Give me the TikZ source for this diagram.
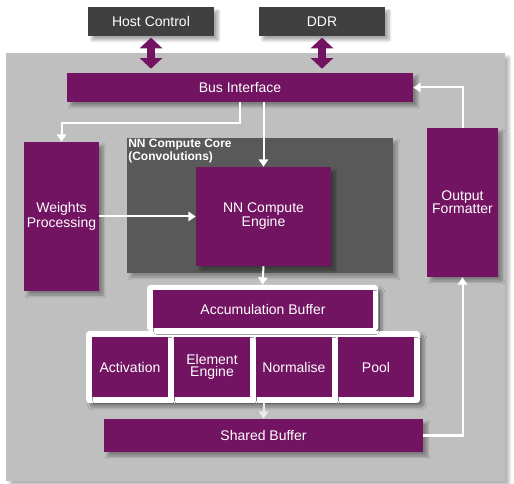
\documentclass[tikz,border=0pt]{standalone}
\usepackage{fontspec}
\setmainfont{Liberation Sans}
\usetikzlibrary{arrows.meta,shadows.blur}

\definecolor{nnpurple}{RGB}{114,20,98}
\definecolor{bggray}{RGB}{191,191,191}
\definecolor{coregray}{RGB}{89,89,89}
\definecolor{hostgray}{RGB}{64,64,64}

\tikzset{
  blk/.style={fill=nnpurple, text=white, inner sep=0pt, align=center,
    font=\fontsize{10.5}{9.5}\selectfont,
    blur shadow={shadow xshift=3pt, shadow yshift=-3pt, shadow opacity=35, shadow blur steps=6}},
  ext/.style={blk, fill=hostgray},
  frame/.style={fill=white, rounded corners=2.5pt, inner sep=0pt,
    blur shadow={shadow xshift=3pt, shadow yshift=-3pt, shadow opacity=35, shadow blur steps=6}},
  flow/.style={draw=white, line width=1.5pt, -{Triangle[width=7pt,length=5.5pt]}},
  busarrow/.style={draw=nnpurple, line width=5.5pt,
    {Triangle[width=16.5pt,length=8pt]}-{Triangle[width=16.5pt,length=8pt]}},
}

\begin{document}
\begin{tikzpicture}[x=0.75pt,y=0.75pt,yscale=-1,xscale=1]
\useasboundingbox (0,0) rectangle (514,484);

% background panel
\fill[bggray, blur shadow={shadow xshift=3pt, shadow yshift=-3pt, shadow opacity=30, shadow blur steps=6}] (6,53) rectangle (505,481);

% external blocks
\node[ext, minimum width=94.5pt, minimum height=21.75pt] (host) at (151,21.5) {Host Control};
\node[ext, minimum width=94.5pt, minimum height=21.75pt] (ddr) at (322,21.5) {DDR};

% bus
\node[blk, minimum width=259.5pt, minimum height=21.75pt] (bus) at (240,87.5) {Bus Interface};

\draw[busarrow, shorten <=1pt, shorten >=3pt] (host.south) -- (host.south |- bus.north);
\draw[busarrow, shorten <=1pt, shorten >=3pt] (ddr.south) -- (ddr.south |- bus.north);

% side blocks
\node[blk, minimum width=56.25pt, minimum height=111.75pt] (weights) at (61.5,216.5) {Weights\\Processing};
\node[blk, minimum width=53.25pt, minimum height=111.75pt] (output) at (462.5,202.5) {Output\\Formatter};

% compute core
\node[fill=coregray, minimum width=199.5pt, minimum height=101.25pt, inner sep=0pt,
  blur shadow={shadow xshift=3pt, shadow yshift=-3pt, shadow opacity=30, shadow blur steps=6}] (core) at (260,205.5) {};
\node[anchor=north west, text=white, inner sep=1pt, align=left,
  font=\bfseries\fontsize{9}{8.3}\selectfont] (corelabel) at (core.north west) {NN Compute Core\\(Convolutions)};
\node[blk, minimum width=101.25pt, minimum height=74.25pt, font=\fontsize{10.5}{10.5}\selectfont] (engine) at (263.5,216.5) {NN Compute\\Engine};

% post-processing
\node[frame, minimum width=173.25pt, minimum height=34.5pt] (accframe) at (262.5,308) {};
\node[frame, minimum width=250.5pt, minimum height=54pt] (postframe) at (253,367) {};
\fill[white] (150,325) rectangle (375,335);
\node[blk, minimum width=165pt, minimum height=28.5pt, blur shadow={shadow opacity=0}] (acc) at (263,309) {Accumulation Buffer};
\node[blk, minimum width=57pt, minimum height=45pt, blur shadow={shadow opacity=0}] (act) at (130,367) {Activation};
\node[blk, minimum width=57pt, minimum height=45pt, blur shadow={shadow opacity=0}] (elem) at (212,367) {Element\\Engine};
\node[blk, minimum width=57pt, minimum height=45pt, blur shadow={shadow opacity=0}] (norm) at (294,367) {Normalise};
\node[blk, minimum width=57pt, minimum height=45pt, blur shadow={shadow opacity=0}] (pool) at (376,367) {Pool};

\node[blk, minimum width=239.25pt, minimum height=24.75pt] (shared) at (263.5,435.5) {Shared Buffer};

% data flow
\draw[flow] (bus.south) -- ++(0,21) -| (weights.north);
\draw[flow] (bus.south -| engine.north) -- (engine.north);
\draw[flow] (weights.east) -- (engine.west);
\draw[flow] (engine.south) -- (accframe.north);
\draw[flow, draw=white!85!gray] (postframe.south -| shared.north) -- (shared.north);
\draw[flow] (shared.east) -| (output.south);
\draw[flow] (output.north) |- (bus.east);

\end{tikzpicture}
\end{document}
